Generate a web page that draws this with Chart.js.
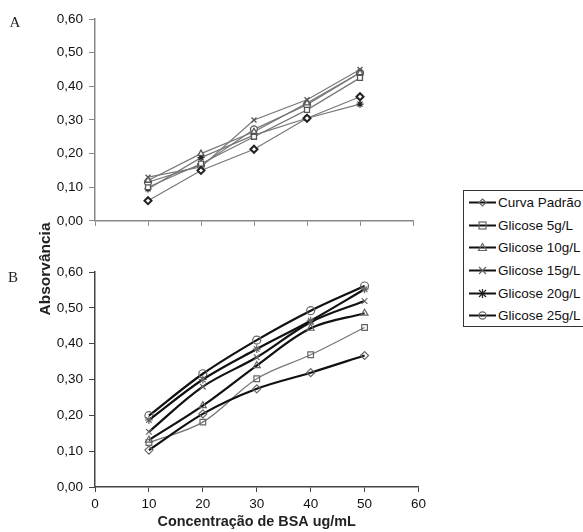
<!DOCTYPE html>
<html>
<head>
<meta charset="utf-8">
<script src="https://cdn.jsdelivr.net/npm/chart.js@4.4.1/dist/chart.umd.min.js"></script>
<style>
  body { margin: 0; background: #fff; width: 583px; height: 532px; overflow: hidden; position: relative; font-family: "Liberation Sans", Arial, sans-serif; }
  canvas { position: absolute; left: 0; }
  #chartA { top: 0; }
  #chartB { top: 255px; }
  .panel { position: absolute; font-family: "Liberation Serif", "Times New Roman", serif; font-size: 15px; color: #222; transform: translate(-50%, -50%); }
  #yTitle { position: absolute; left: 45px; top: 269px; transform: translate(-50%, -50%) rotate(-90deg); font-weight: bold; font-size: 15.5px; color: #222; white-space: nowrap; }
  #legend { position: absolute; left: 463px; top: 190px; width: 140px; height: 137px; border: 1px solid #333; box-sizing: border-box; padding-top: 0; }
  .item { height: 22.7px; display: flex; align-items: center; font-size: 13.5px; color: #111; white-space: nowrap; }
  .item svg { margin-left: 5px; margin-right: 2px; }
</style>
</head>
<body>
<canvas id="chartA" width="420" height="235"></canvas>
<canvas id="chartB" width="430" height="277"></canvas>
<div class="panel" style="left:15px; top:22px;">A</div>
<div class="panel" style="left:13px; top:277px;">B</div>
<div id="yTitle">Absorvância</div>
<div id="legend"></div>
<script>
const concentrations = [10, 20, 30, 40, 50];
const seriesNames = ["Curva Padrão", "Glicose 5g/L", "Glicose 10g/L", "Glicose 15g/L", "Glicose 20g/L", "Glicose 25g/L"];
const markers = ["rectRot", "rect", "triangle", "crossRot", "star", "circle"];
const yTicks = [0, 0.1, 0.2, 0.3, 0.4, 0.5, 0.6];
const xTicks = [0, 10, 20, 30, 40, 50, 60];

// panel A
const curvaA = [0.06, 0.15, 0.213, 0.305, 0.369];
const glic5A = [0.10, 0.17, 0.25, 0.33, 0.425];
const glic10A = [0.12, 0.20, 0.265, 0.35, 0.44];
const glic15A = [0.13, 0.16, 0.30, 0.36, 0.45];
const glic20A = [0.095, 0.188, 0.255, 0.305, 0.347];
const glic25A = [0.115, 0.165, 0.272, 0.345, 0.44];

// panel B
const curvaB = [0.103, 0.204, 0.274, 0.319, 0.367];
const glic5B = [0.124, 0.181, 0.302, 0.369, 0.445];
const glic10B = [0.131, 0.227, 0.339, 0.443, 0.485];
const glic15B = [0.154, 0.28, 0.362, 0.46, 0.519];
const glic20B = [0.187, 0.30, 0.385, 0.464, 0.552];
const glic25B = [0.199, 0.316, 0.41, 0.492, 0.561];

const seriesA = [curvaA, glic5A, glic10A, glic15A, glic20A, glic25A];
const seriesB = [curvaB, glic5B, glic10B, glic15B, glic20B, glic25B];

const fmt = v => v.toFixed(2).replace(".", ",");
const tickFont = { family: "Liberation Sans", size: 13.5 };

function makeScales(axisColor, showX, yWidth, xHeight) {
  return {
    x: {
      type: "linear", min: 0, max: 60,
      afterBuildTicks: s => { s.ticks = xTicks.map(v => ({ value: v })); },
      afterFit: s => { s.height = xHeight; },
      grid: { drawOnChartArea: false, drawTicks: true, tickLength: 5, color: axisColor },
      border: { color: axisColor, width: 1.5 },
      ticks: { display: showX, color: "#111", font: tickFont, padding: 4 },
      title: {
        display: showX, text: "Concentração de BSA ug/mL", color: "#222",
        font: { family: "Liberation Sans", size: 14.4, weight: "bold" }, padding: { top: 2, bottom: 1 }
      }
    },
    y: {
      type: "linear", min: 0, max: 0.6,
      afterBuildTicks: s => { s.ticks = yTicks.map(v => ({ value: v })); },
      afterFit: s => { s.width = yWidth; },
      grid: { drawOnChartArea: false, drawTicks: true, tickLength: 6, color: axisColor },
      border: { color: axisColor, width: 1.5 },
      ticks: { color: "#111", font: tickFont, padding: 6, callback: v => fmt(v) }
    }
  };
}

function pointsOf(vals) {
  return concentrations.map((x, i) => ({ x: x, y: vals[i] }));
}

const dsA = seriesA.map((vals, i) => ({
  label: seriesNames[i],
  data: pointsOf(vals),
  borderColor: "#777",
  borderWidth: 1.2,
  pointStyle: markers[i],
  pointRadius: 3.5,
  pointBorderColor: i === 0 || i === 4 ? "#222" : "#555",
  pointBorderWidth: i === 0 ? 2 : 1.3,
  pointBackgroundColor: "#fff",
  tension: 0
}));

const dsB = seriesB.map((vals, i) => ({
  label: seriesNames[i],
  data: pointsOf(vals),
  borderColor: i === 1 ? "#777" : "#111",
  borderWidth: i === 1 ? 1.3 : 2.2,
  pointStyle: markers[i],
  pointRadius: 4,
  pointBorderColor: "#666",
  pointBorderWidth: 1.2,
  pointBackgroundColor: "rgba(255,255,255,0)",
  tension: 0.35
}));

const common = {
  responsive: false,
  animation: false,
  devicePixelRatio: 1,
  plugins: { legend: { display: false }, tooltip: { enabled: false } }
};

new Chart(document.getElementById("chartA"), {
  type: "line",
  data: { datasets: dsA },
  options: Object.assign({}, common, {
    layout: { padding: { top: 19, right: 7, left: 0, bottom: 0 } },
    scales: makeScales("#888", false, 95, 13)
  })
});

new Chart(document.getElementById("chartB"), {
  type: "line",
  data: { datasets: dsB },
  options: Object.assign({}, common, {
    layout: { padding: { top: 17, right: 8, left: 0, bottom: 0 } },
    scales: makeScales("#444", true, 95, 45)
  })
});

// legend
function markerSvg(style) {
  const c = 'stroke="#666" stroke-width="1.2" fill="none"';
  switch (style) {
    case "rectRot": return `<polygon points="13.5,3 17,6.5 13.5,10 10,6.5" ${c}/>`;
    case "rect": return `<rect x="10" y="3" width="7" height="7" ${c}/>`;
    case "triangle": return `<polygon points="13.5,2.5 17.5,9.5 9.5,9.5" ${c}/>`;
    case "crossRot": return `<path d="M10,3 L17,10 M17,3 L10,10" ${c}/>`;
    case "star": return `<path d="M10,3 L17,10 M17,3 L10,10 M13.5,2 L13.5,11" stroke="#222" stroke-width="1.2"/>`;
    default: return `<circle cx="13.5" cy="6.5" r="3.6" ${c}/>`;
  }
}
const legend = document.getElementById("legend");
seriesNames.forEach((name, i) => {
  const row = document.createElement("div");
  row.className = "item";
  row.innerHTML = `<svg width="27" height="13"><line x1="0" y1="6.5" x2="27" y2="6.5" stroke="#111" stroke-width="2"/>${markerSvg(markers[i])}</svg><span>${name}</span>`;
  legend.appendChild(row);
});
</script>
</body>
</html>
